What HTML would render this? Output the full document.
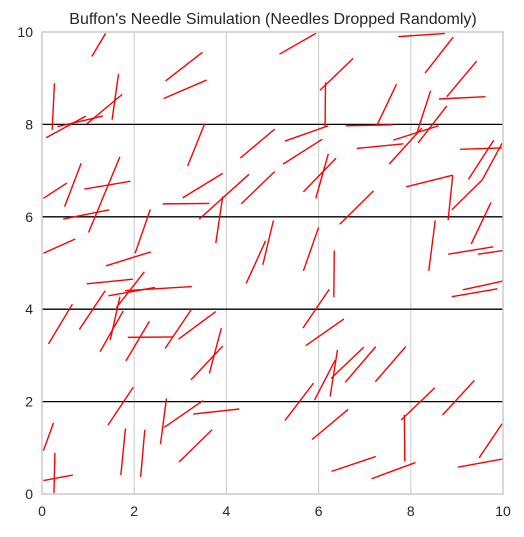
<!DOCTYPE html>
<html><head><meta charset="utf-8"><style>
body{margin:0;background:#fff;}
svg text{font-family:"Liberation Sans","DejaVu Sans",sans-serif;fill:#262626;}
</style></head><body>
<svg id="chart" width="524" height="532">
<defs><clipPath id="clip"><rect x="42" y="32" width="461" height="462"/></clipPath></defs>
<text x="273" y="24" text-anchor="middle" font-size="16">Buffon's Needle Simulation (Needles Dropped Randomly)</text>
<g id="grid"></g>
<g id="needles" clip-path="url(#clip)"></g>
<rect x="42" y="32" width="461" height="462" fill="none" stroke="#cccccc" stroke-width="1.5"/>
<g id="ticks"></g>
</svg>
<script>
const xTicks=[0,2,4,6,8,10];
const lineYs=[2,4,6,8];
const needles=[
[1.08,9.47,1.38,9.97],[2.68,8.94,3.48,9.56],[2.64,8.56,3.57,8.96],[0.27,8.89,0.22,7.88],
[0.09,7.71,0.95,8.18],[0.33,7.95,1.32,8.18],[0.97,8.01,1.74,8.65],[1.66,9.09,1.52,8.10],
[3.53,8.02,3.16,7.10],[0.03,6.40,0.54,6.73],[0.85,7.16,0.49,6.22],[0.92,6.60,1.92,6.77],
[1.69,7.30,1.01,5.66],[0.46,5.95,1.46,6.15],[0.03,5.21,0.72,5.52],[2.35,6.16,2.02,5.21],
[1.39,4.94,2.36,5.24],[2.62,6.28,3.63,6.29],[3.05,6.41,3.92,6.94],[3.41,5.95,4.49,6.92],
[3.92,6.44,3.77,5.43],[4.30,7.27,5.05,7.90],[4.32,6.28,5.05,6.98],[5.02,5.92,4.79,4.96],
[4.85,5.48,4.43,4.56],[5.15,9.52,5.94,9.97],[7.73,9.90,8.74,9.97],[8.31,9.11,8.92,9.89],
[6.03,8.74,6.75,9.43],[6.15,8.91,6.14,7.95],[8.78,8.60,9.43,9.37],[8.61,8.55,9.62,8.60],
[5.27,7.64,6.21,7.97],[6.59,7.97,7.61,7.99],[7.27,7.99,7.69,8.87],[8.13,7.81,8.43,8.73],
[8.16,7.60,8.78,8.40],[7.62,7.66,8.60,7.97],[5.23,7.14,6.08,7.68],[6.83,7.48,7.84,7.58],
[7.53,7.14,8.24,7.92],[5.67,6.54,6.38,7.27],[5.94,6.40,6.21,7.36],[6.46,5.84,7.19,6.56],
[7.90,6.65,8.91,6.90],[8.91,6.90,8.81,5.93],[8.89,6.15,9.55,6.80],[9.55,6.80,9.98,7.59],
[9.25,6.81,9.80,7.66],[9.07,7.46,9.98,7.49],[9.31,5.41,9.74,6.31],[8.81,5.19,9.79,5.35],
[9.46,5.19,10.0,5.27],[5.67,4.83,6.00,5.77],[6.34,5.27,6.33,4.26],[8.39,4.83,8.53,5.92],
[0.97,4.55,1.97,4.65],[1.44,4.29,2.45,4.47],[1.80,4.40,3.25,4.49],[2.22,4.81,1.61,4.03],
[0.66,4.11,0.14,3.25],[1.37,4.40,0.81,3.56],[1.76,3.96,1.26,3.08],[1.69,4.27,1.48,3.33],
[2.33,3.74,1.82,2.88],[1.86,3.39,2.85,3.40],[3.23,3.98,2.67,3.15],[3.77,3.95,2.96,3.35],
[3.89,3.59,3.63,2.61],[3.92,3.20,3.23,2.47],[1.98,2.31,1.43,1.49],[0.25,1.54,0.03,0.94],
[0.28,0.89,0.26,0.02],[0.03,0.29,0.67,0.41],[1.81,1.42,1.71,0.41],[2.23,1.39,2.14,0.37],
[2.70,2.07,2.57,1.08],[2.65,1.44,3.49,2.02],[3.28,1.73,4.28,1.84],[3.69,1.39,2.97,0.69],
[8.89,4.27,9.88,4.44],[9.13,4.42,10.0,4.61],[6.23,4.43,5.66,3.59],[6.55,3.79,5.72,3.21],
[6.98,3.18,6.27,2.50],[6.41,3.12,6.25,2.11],[6.36,2.90,5.91,2.03],[7.24,3.19,6.58,2.42],
[7.89,3.19,7.23,2.43],[5.89,2.40,5.27,1.59],[6.64,1.83,5.86,1.18],[8.52,2.30,7.79,1.60],
[7.86,1.71,7.87,0.70],[9.38,2.46,8.69,1.71],[9.98,1.52,9.48,0.78],[7.24,0.81,6.28,0.49],
[8.10,0.68,7.15,0.33],[10.0,0.76,9.02,0.58]
];
const X0=42,X1=503,Y0=494,Y1=32;
const sx=v=>X0+(X1-X0)*v/10;
const sy=v=>Y0-(Y0-Y1)*v/10;
const NS="http://www.w3.org/2000/svg";
const grid=document.getElementById('grid');
const ticks=document.getElementById('ticks');
const nd=document.getElementById('needles');
xTicks.forEach(t=>{
  if(t>0&&t<10){
    const l=document.createElementNS(NS,'line');
    l.setAttribute('x1',sx(t));l.setAttribute('x2',sx(t));
    l.setAttribute('y1',Y1);l.setAttribute('y2',Y0);
    l.setAttribute('stroke','#d0d0d0');l.setAttribute('stroke-width','1.2');
    
    
    grid.appendChild(l);
  }
  const tx=document.createElementNS(NS,'text');
  tx.setAttribute('x',sx(t));tx.setAttribute('y',Y0+22);
  tx.setAttribute('text-anchor','middle');tx.setAttribute('font-size','14');
  tx.textContent=t;
  
  
  ticks.appendChild(tx);
  const ty=document.createElementNS(NS,'text');
  ty.setAttribute('x',X0-9);ty.setAttribute('y',sy(t)+5);
  ty.setAttribute('text-anchor','end');ty.setAttribute('font-size','14');
  ty.textContent=t;
  
  
  ticks.appendChild(ty);
});
lineYs.forEach(v=>{
  const l=document.createElementNS(NS,'line');
  l.setAttribute('x1',X0);l.setAttribute('x2',X1);
  l.setAttribute('y1',sy(v));l.setAttribute('y2',sy(v));
  l.setAttribute('stroke','#000');l.setAttribute('stroke-width','1.3');
  
  
  grid.appendChild(l);
});
needles.forEach(n=>{
  const l=document.createElementNS(NS,'line');
  l.setAttribute('x1',sx(n[0]));l.setAttribute('y1',sy(n[1]));
  l.setAttribute('x2',sx(n[2]));l.setAttribute('y2',sy(n[3]));
  l.setAttribute('stroke','#ff0000');l.setAttribute('stroke-width','1.4');
  
  
  nd.appendChild(l);
});
</script>
</body></html>
